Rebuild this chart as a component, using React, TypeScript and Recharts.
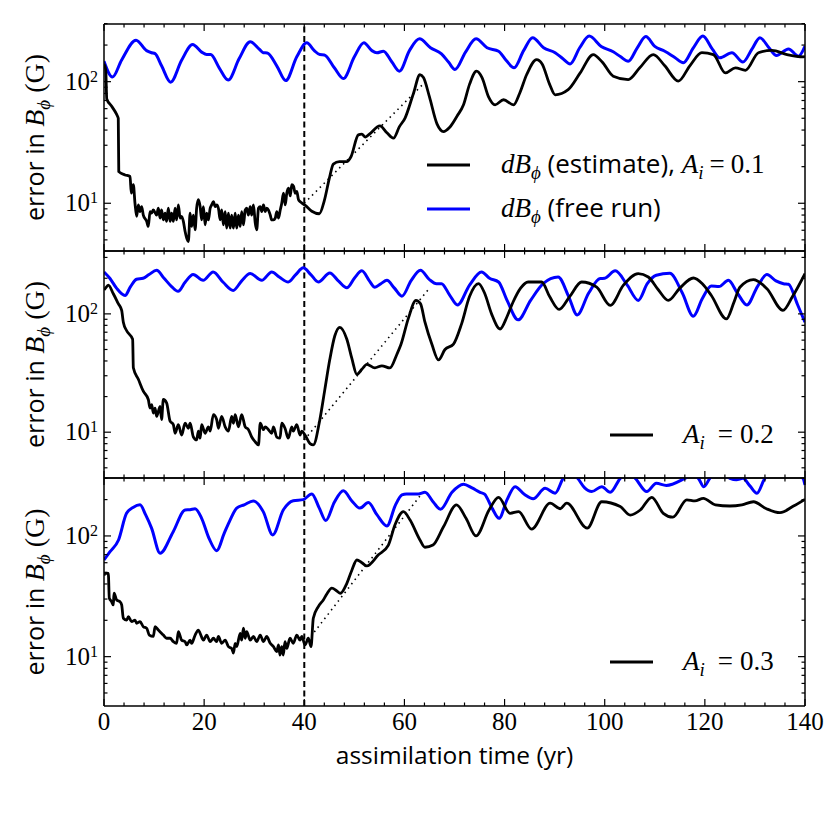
import React from 'react';
import { LineChart, Line, XAxis, YAxis, ReferenceLine } from 'recharts';

const SANS = "'Open Sans', sans-serif";
const SERIF = "'Liberation Serif', 'DejaVu Serif', serif";
const BLUE = '#0000ff';

const X_TICKS = [0, 4, 8, 12, 16, 20, 24, 28, 32, 36, 40, 44, 48, 52, 56, 60, 64, 68, 72, 76, 80, 84, 88, 92, 96, 100, 104, 108, 112, 116, 120, 124, 128, 132, 136, 140];
const X_MAJOR = [0, 20, 40, 60, 80, 100, 120, 140];
const Y_TICKS = [5, 6, 7, 8, 9, 10, 20, 30, 40, 50, 60, 70, 80, 90, 100, 200, 300];
const Y_MAJOR = [10, 100];
const Y_MAJOR_EXP = ['1', '2'];

// ---- panel 1 (A_i = 0.1) ----
const p1Estimate: [number, number][] = [
  [0, 140], [0.35, 125], [0.55, 72], [1.5, 63], [2.5, 54], [2.85, 50], [2.95, 18.2], [4.2, 17.1], [5.2, 16.6], [5.45, 12.1], [5.86, 14.2], [6.19, 10.0], [6.52, 7.8], [6.86, 9.7], [7.19, 8.55], [7.52, 9.4], [7.85, 8.0], [8.52, 7.1], [8.85, 6.45], [9.19, 8.55], [9.52, 8.3], [9.85, 8.8], [10.5, 8.0], [10.85, 9.1], [11.2, 7.55], [11.5, 8.8], [11.85, 7.3], [12.2, 8.3], [12.5, 7.1], [12.85, 9.1], [13.2, 7.1], [13.5, 8.3], [13.85, 7.1], [14.2, 9.1], [14.5, 7.3], [14.85, 9.7], [15.2, 7.55], [15.5, 7.8], [15.85, 7.1], [16.2, 5.85], [16.5, 5.2], [16.85, 4.85], [17.2, 8.3], [17.5, 6.45], [17.85, 8.0], [18.2, 6.05], [18.5, 9.1], [18.85, 10.7], [19.2, 9.4], [19.5, 7.3], [19.85, 9.4], [20.2, 6.65], [20.5, 8.3], [20.85, 7.3], [21.2, 9.1], [21.5, 9.7], [21.85, 10.3], [22.2, 9.4], [22.5, 9.7], [22.85, 9.1], [23.2, 7.3], [23.5, 8.8], [23.85, 6.65], [24.2, 8.55], [24.5, 6.25], [24.85, 8.3], [25.2, 6.25], [25.5, 8.0], [25.85, 6.25], [26.2, 8.3], [26.5, 6.25], [26.85, 8.0], [27.2, 6.45], [27.5, 8.55], [27.85, 6.65], [28.2, 8.8], [28.5, 9.1], [28.85, 8.0], [29.2, 9.4], [29.5, 8.0], [29.85, 9.7], [30.2, 6.9], [30.5, 6.05], [30.85, 9.1], [31.2, 9.4], [31.5, 8.55], [31.85, 9.7], [32.2, 8.55], [32.5, 9.1], [32.85, 8.8], [33.2, 8.0], [33.5, 7.3], [33.85, 7.3], [34.2, 7.55], [34.5, 8.55], [34.85, 7.55], [35.2, 8.8], [35.5, 10.0], [35.85, 12.1], [36.2, 9.7], [36.5, 12.1], [36.85, 13.3], [37.2, 11.5], [37.5, 14.2], [37.85, 13.8], [38.2, 12.1], [38.5, 12.5], [38.85, 10.7], [39.2, 10.3], [39.6, 10.0], [40.2, 9.6], [41.5, 8.6], [43, 8.2], [44, 10.5], [45, 16], [45.8, 21], [47, 22], [48.5, 22], [49.3, 24], [50.8, 36.5], [51.5, 37], [52.2, 35], [53, 37], [55.1, 43.3], [56.5, 38], [57.8, 34.3], [59, 42.7], [60.1, 50], [61.8, 80], [63.1, 114], [63.8, 108], [65, 75], [66.5, 45], [67.8, 38.9], [69, 42], [70.5, 52], [71.8, 64.5], [73, 95], [74.4, 122], [75.5, 108], [76.8, 75], [78.1, 64.5], [79.8, 71], [81.8, 64.5], [83, 80], [84.4, 114], [86.4, 152], [87.5, 140], [89, 95], [90.1, 78], [92.7, 86], [95.1, 118], [97.7, 167], [99.5, 145], [101.7, 111], [104.7, 104], [107, 130], [109.7, 167], [112, 135], [114.7, 101], [117, 135], [119.4, 173], [121.7, 167], [124.1, 118], [126.1, 130], [128.1, 124], [130.7, 173], [133.4, 181], [136.4, 167], [139.7, 160], [140, 162],
];
const p1FreeRun: [number, number][] = [
  [0, 147], [1.7, 109], [3.5, 150], [6.4, 219], [8.5, 180], [9.5, 173], [10.2, 170], [11.5, 135], [13.3, 99], [15.5, 150], [17.7, 202], [19.5, 175], [20.5, 167], [21.3, 167], [23, 130], [24.8, 103], [27, 155], [29.2, 213], [31, 185], [31.8, 173], [32.6, 172], [34.5, 135], [36.3, 102], [38.5, 160], [40.5, 209], [42, 180], [43.1, 167], [44, 166], [46, 130], [47.8, 106], [50, 160], [51.9, 209], [53.5, 180], [54.5, 173], [55.8, 178], [57.5, 145], [59, 122], [61, 180], [63, 225], [65.2, 190], [67.4, 169], [68.8, 145], [70.1, 126], [72.2, 175], [74.3, 225], [76.5, 190], [78.8, 178], [80.3, 150], [81.9, 130], [83.8, 180], [85.6, 230], [87.8, 190], [90.1, 173], [91.6, 155], [93.1, 140], [95, 190], [96.9, 237], [99.3, 195], [101.7, 176], [103.2, 160], [104.7, 147], [106.5, 190], [108.2, 235], [110, 195], [112, 178], [114, 158], [115.7, 143], [117.7, 190], [119.6, 237], [121.5, 185], [123, 157], [125.4, 173], [127.6, 145], [129.4, 185], [131, 230], [132.8, 190], [134.3, 164], [136.7, 186], [138.7, 162], [140, 196],
];
const p1Trend: [number, number][] = [[40, 10], [64, 98]];

// ---- panel 2 (A_i = 0.2) ----
const p2Estimate: [number, number][] = [
  [0, 160], [0.2, 163], [0.86, 175], [1.86, 148], [2.86, 122], [3.53, 107], [3.86, 85], [4.53, 72], [5.72, 61], [5.86, 35], [6.86, 28], [7.85, 22.2], [8.85, 18.9], [9.19, 16], [9.52, 17.1], [9.85, 14.5], [10.19, 16], [10.52, 13.6], [11.2, 16.5], [11.5, 12.8], [11.85, 18.9], [12.5, 17.7], [13.2, 12.4], [13.85, 11.6], [14.2, 9.8], [14.85, 11.6], [15.5, 9.45], [16.2, 11.9], [16.85, 10.8], [17.2, 11.9], [17.85, 9.1], [18.5, 8.6], [18.85, 10.2], [19.2, 8.9], [19.5, 11.6], [20.2, 9.8], [20.85, 11.1], [21.2, 10.2], [21.85, 14.1], [22.5, 12.8], [22.85, 10.8], [23.5, 13.6], [24.2, 11.1], [24.85, 10.2], [25.5, 13.6], [25.85, 11.9], [26.2, 14.1], [26.85, 11.1], [27.5, 14.1], [28.2, 11.1], [28.85, 10.5], [29.5, 9.1], [30.2, 8.3], [30.85, 7.8], [31.2, 11.9], [31.85, 10.5], [32.2, 11.1], [32.85, 10.5], [33.5, 9.8], [33.85, 11.1], [34.5, 9.1], [35.15, 8.9], [35.5, 11.9], [36.15, 10.8], [36.8, 8.9], [37.5, 11.1], [37.8, 10.2], [38.5, 11.6], [39.15, 9.45], [39.5, 10.2], [40.15, 9.45], [41.15, 8.0], [41.8, 7.8], [43.1, 12.7], [44.1, 22.9], [45.1, 41.3], [46.1, 65.3], [47.1, 77], [48.5, 61], [49.5, 42], [50.5, 30.8], [51.5, 34], [52.5, 37.5], [54.1, 35], [55.5, 36.4], [57.1, 34.9], [58.5, 45.6], [59.3, 55], [60.8, 92], [62.3, 130], [63.2, 122], [64.1, 85], [65.5, 55], [66.8, 40.8], [68.1, 50], [69.8, 55.5], [71.4, 82], [73, 140], [74.8, 180], [76, 150], [77.4, 100], [79.1, 74.5], [80.5, 95], [81.7, 126], [83.2, 165], [84.7, 186], [87.4, 186], [89, 140], [90.9, 109], [93, 140], [95.4, 186], [98.4, 168], [101.1, 118], [103.7, 174], [106.7, 219], [108.7, 205], [110.7, 160], [112.7, 130], [115, 165], [117.7, 201], [119.5, 180], [121.3, 143], [124.3, 90.6], [125.8, 125], [127, 168], [129.7, 195], [132.4, 163], [135.6, 107], [137.5, 140], [140, 219],
];
const p2FreeRun: [number, number][] = [
  [0, 226], [1.2, 199], [2.5, 165], [4.2, 143], [5.3, 170], [6.5, 196], [7.8, 200], [9, 215], [10.5, 234], [12, 200], [13.5, 170], [14.8, 155], [16.2, 185], [17.8, 215], [19.8, 192], [21.8, 226], [23.8, 185], [25.8, 158], [27.5, 190], [29.2, 219], [31.5, 192], [33.5, 226], [35, 205], [36.8, 186], [38.3, 215], [39.8, 245], [41.3, 215], [42.8, 186], [45.1, 222], [46.8, 190], [48.5, 166], [50, 200], [51.5, 231], [53, 190], [54.1, 168], [55.3, 180], [56.5, 192], [58, 165], [59.5, 141], [61.3, 190], [63.2, 234], [65, 195], [66.4, 180], [67.4, 180], [69, 145], [70.6, 119], [73, 175], [75.4, 226], [77, 200], [78.8, 186], [80.5, 130], [82.7, 89], [85.2, 130], [87.7, 180], [90.7, 205], [92.8, 140], [94.5, 98], [96.8, 150], [99.1, 199], [100, 200], [102.1, 231], [104.5, 175], [106.7, 130], [108.5, 180], [110.3, 212], [113, 220], [115.5, 150], [117.7, 95.5], [119.5, 135], [121.3, 172], [122.8, 170], [124.7, 192], [126.5, 150], [128.4, 119], [130.5, 170], [132.4, 215], [134.2, 190], [135.7, 180], [136.7, 178], [138.5, 120], [140, 85],
];
const p2Trend: [number, number][] = [[40, 8.6], [65, 165]];

// ---- panel 3 (A_i = 0.3) ----
const p3Estimate: [number, number][] = [
  [0, 47], [0.2, 49], [0.86, 49], [1.06, 30.5], [1.53, 28.5], [1.86, 26.8], [2.0, 33.5], [2.53, 29.5], [3.2, 28.5], [3.53, 26.8], [3.86, 20.8], [4.53, 20.1], [4.86, 21.4], [5.52, 19.5], [6.2, 20.1], [6.52, 18.9], [7.2, 19.5], [7.85, 17.7], [8.52, 17.2], [9.05, 15.1], [9.85, 14.7], [10.2, 17.7], [10.85, 16.6], [11.85, 15.1], [12.5, 14.2], [13.2, 14.2], [13.85, 13.3], [14.5, 12.9], [14.85, 16.1], [15.5, 13.7], [16.2, 13.3], [16.5, 12.5], [17.2, 13.7], [17.5, 12.9], [18.2, 15.1], [18.85, 16.6], [19.2, 15.6], [19.85, 13.7], [20.5, 15.1], [21.2, 13.3], [21.85, 14.2], [22.5, 13.3], [22.85, 14.7], [23.5, 12.9], [24.2, 13.7], [24.85, 12.1], [25.5, 11.7], [25.85, 10.7], [26.2, 12.9], [26.5, 12.1], [27.2, 15.6], [27.5, 13.7], [27.85, 17.2], [28.2, 14.2], [28.5, 16.1], [29.2, 13.7], [29.85, 14.7], [30.5, 13.3], [31.2, 15.1], [31.85, 13.3], [32.5, 14.7], [33.2, 12.9], [33.85, 12.1], [34.5, 11.0], [34.85, 12.5], [35.15, 10.3], [35.5, 12.1], [35.8, 10.3], [36.15, 13.3], [36.5, 11.7], [37.15, 14.2], [37.8, 12.9], [38.5, 15.1], [39.15, 13.7], [39.5, 14.7], [40.15, 12.5], [40.8, 14.2], [41.35, 12.1], [41.8, 20.8], [42.8, 26], [43.8, 29.5], [44.5, 33], [45.5, 36.9], [46.5, 35], [47.2, 33.5], [48.5, 40.5], [49.5, 52], [50.5, 63.2], [51.5, 60], [52.5, 56.4], [54.8, 69.7], [56.8, 84], [58.1, 123], [59.8, 159], [61.1, 136], [63.1, 92.6], [64.1, 80.6], [65.7, 84], [67.8, 119], [70.4, 181], [72.3, 140], [74.3, 100], [76.9, 164], [78.8, 209], [81.1, 154], [82.8, 159], [85.4, 114], [89.1, 187], [91.1, 168], [92.4, 187], [96.5, 116], [99.4, 192], [103.1, 175], [105.1, 149], [107.1, 164], [109.4, 209], [111.7, 154], [113.6, 143], [116.4, 199], [118, 195], [119.7, 205], [122.1, 181], [125, 177], [127.4, 181], [129.7, 192], [132.3, 168], [135, 156], [137.7, 177], [140, 201],
];
const p3FreeRun: [number, number][] = [
  [0, 63.2], [1.2, 74], [2.9, 92.6], [4.5, 154], [5.8, 172], [7.2, 181], [8.3, 150], [9.5, 116], [11.2, 72], [13.8, 108], [16.2, 164], [17.2, 165], [18.2, 168], [19.5, 140], [21, 95], [22.5, 75.5], [24, 105], [25.2, 136], [26.5, 170], [28, 181], [29.8, 195], [31.8, 159], [33.7, 102], [35.8, 164], [37.8, 196], [39.8, 200], [41.5, 223], [43, 170], [44.3, 134], [46, 190], [47.8, 237], [49.5, 195], [51.1, 170], [52.8, 189], [54.5, 150], [56.5, 121], [58.2, 180], [59.5, 219], [60.4, 223], [62.8, 223], [64.1, 230], [65.8, 190], [67.2, 166], [69.5, 230], [71.8, 268], [73.5, 250], [75.1, 230], [76, 222], [77.5, 170], [78.9, 140], [80.5, 200], [82.1, 256], [84, 220], [85.7, 203], [88.1, 248], [90.1, 226], [91.7, 300], [93.2, 340], [94.6, 300], [96, 250], [97.4, 233], [99.4, 256], [101.1, 230], [103.1, 300], [104.6, 335], [106.1, 300], [108.4, 233], [110.3, 273], [112.3, 262], [116, 300], [117.3, 320], [118.7, 300], [119.8, 256], [121, 300], [123, 340], [125, 300], [126.3, 292], [127.6, 300], [129, 260], [130.4, 226], [132, 300], [135.5, 360], [139.6, 300], [140, 264],
];
const p3Trend: [number, number][] = [[42, 16], [63.5, 225]];

const toRows = (pairs: [number, number][]) => pairs.map(([t, v]) => ({ t, v }));

const XTickTop = (props: any) => {
  const { x, y, payload } = props;
  const major = X_MAJOR.includes(payload.value);
  return <line x1={x} x2={x} y1={y} y2={y + (major ? 7 : 3.5)} stroke="#000" strokeWidth={1.2} />;
};

const makeXTickBottom = (showLabels: boolean) => (props: any) => {
  const { x, y, payload } = props;
  const major = X_MAJOR.includes(payload.value);
  return (
    <g>
      <line x1={x} x2={x} y1={y} y2={y - (major ? 7 : 3.5)} stroke="#000" strokeWidth={1.2} />
      {showLabels && major && (
        <text x={x} y={y + 24} textAnchor="middle" fontFamily={SERIF} fontSize={25} fill="#000">
          {payload.value}
        </text>
      )}
    </g>
  );
};

const YTickLeft = (props: any) => {
  const { x, y, payload } = props;
  const idx = Y_MAJOR.indexOf(payload.value);
  const major = idx >= 0;
  return (
    <g>
      <line x1={x} x2={x + (major ? 7 : 3.5)} y1={y} y2={y} stroke="#000" strokeWidth={1.2} />
      {major && (
        <text x={x - 6} y={y + 8} textAnchor="end" fontFamily={SERIF} fontSize={25} fill="#000">
          10<tspan dy={-8} fontSize={16}>{Y_MAJOR_EXP[idx]}</tspan>
        </text>
      )}
    </g>
  );
};

const YTickRight = (props: any) => {
  const { x, y, payload } = props;
  const major = Y_MAJOR.includes(payload.value);
  return <line x1={x} x2={x - (major ? 7 : 3.5)} y1={y} y2={y} stroke="#000" strokeWidth={1.2} />;
};

const axisLine = { stroke: '#000', strokeWidth: 1.5 };

type PanelProps = {
  top: number;
  plotH: number;
  bottomH: number;
  domain: [number, number];
  estimate: [number, number][];
  freeRun: [number, number][];
  trend: [number, number][];
  showXLabels: boolean;
};

function Panel({ top, plotH, bottomH, domain, estimate, freeRun, trend, showXLabels }: PanelProps) {
  const height = 2 + 1 + plotH + bottomH;
  return (
    <div style={{ position: 'absolute', left: 0, top: top - 3 }}>
      <LineChart width={830} height={height} margin={{ top: 2, right: 0, bottom: 0, left: 0 }}>
        <XAxis xAxisId="top" orientation="top" type="number" dataKey="t" domain={[0, 140]} ticks={X_TICKS} interval={0}
          height={1} tickSize={0} tickMargin={0} tickLine={false} axisLine={axisLine} tick={XTickTop} allowDataOverflow />
        <XAxis xAxisId="bottom" orientation="bottom" type="number" dataKey="t" domain={[0, 140]} ticks={X_TICKS} interval={0}
          height={bottomH} tickSize={0} tickMargin={0} tickLine={false} axisLine={axisLine} tick={makeXTickBottom(showXLabels)} allowDataOverflow />
        <YAxis yAxisId="left" orientation="left" type="number" scale="log" domain={domain} ticks={Y_TICKS} interval={0}
          width={104} tickSize={0} tickMargin={0} tickLine={false} axisLine={axisLine} tick={YTickLeft} allowDataOverflow />
        <YAxis yAxisId="right" orientation="right" type="number" scale="log" domain={domain} ticks={Y_TICKS} interval={0}
          width={25} tickSize={0} tickMargin={0} tickLine={false} axisLine={axisLine} tick={YTickRight} allowDataOverflow />
        <ReferenceLine xAxisId="bottom" yAxisId="left" x={40} stroke="#000" strokeWidth={2} strokeDasharray="6 3.5" />
        <Line data={toRows(freeRun)} dataKey="v" xAxisId="bottom" yAxisId="left" type="monotone" stroke={BLUE} strokeWidth={3} dot={false} isAnimationActive={false} />
        <Line data={toRows(trend)} dataKey="v" xAxisId="bottom" yAxisId="left" type="linear" stroke="#000" strokeWidth={1.6} strokeDasharray="1.5 4" dot={false} isAnimationActive={false} />
        <Line data={toRows(estimate)} dataKey="v" xAxisId="bottom" yAxisId="left" type="monotone" stroke="#000" strokeWidth={2.8} dot={false} isAnimationActive={false} />
      </LineChart>
    </div>
  );
}

const YLabel = ({ cy }: { cy: number }) => (
  <text transform={`translate(43.5, ${cy}) rotate(-90)`} textAnchor="middle" fill="#000">
    <tspan fontFamily={SANS} fontSize={25}>error in </tspan>
    <tspan fontFamily={SERIF} fontStyle="italic" fontSize={28}>B</tspan>
    <tspan fontFamily={SERIF} fontStyle="italic" fontSize={19} dy={6}>ϕ</tspan>
    <tspan fontFamily={SERIF} fontSize={28} dy={-6}> (G)</tspan>
  </text>
);

const AiLabel = ({ x, y, val }: { x: number; y: number; val: string }) => (
  <text x={x} y={y} fill="#000" fontFamily={SERIF} fontSize={27}>
    <tspan fontStyle="italic">A</tspan>
    <tspan fontStyle="italic" fontSize={19} dy={6}>i</tspan>
    <tspan dy={-6} dx={13}>=</tspan>
    <tspan dx={7}>{val}</tspan>
  </text>
);

export default function App() {
  return (
    <div style={{ position: 'absolute', left: 0, top: 0, width: 830, height: 830, background: '#fff' }}>
      <Panel top={24} plotH={227} bottomH={1} domain={[4.05, 298]} estimate={p1Estimate} freeRun={p1FreeRun} trend={p1Trend} showXLabels={false} />
      <Panel top={251} plotH={227} bottomH={1} domain={[4.1, 340]} estimate={p2Estimate} freeRun={p2FreeRun} trend={p2Trend} showXLabels={false} />
      <Panel top={478} plotH={228} bottomH={70} domain={[3.9, 302]} estimate={p3Estimate} freeRun={p3FreeRun} trend={p3Trend} showXLabels={true} />
      <svg width={830} height={830} style={{ position: 'absolute', left: 0, top: 0, pointerEvents: 'none' }}>
        <YLabel cy={137.5} />
        <YLabel cy={364.5} />
        <YLabel cy={592} />
        <text x={454.5} y={764} textAnchor="middle" fontFamily={SANS} fontSize={24.5} fill="#000">assimilation time (yr)</text>

        <line x1={427} x2={470} y1={165} y2={165} stroke="#000" strokeWidth={3} />
        <text x={501} y={173} fill="#000" fontSize={27}>
          <tspan fontFamily={SERIF} fontStyle="italic">dB</tspan>
          <tspan fontFamily={SERIF} fontStyle="italic" fontSize={19} dy={6}>ϕ</tspan>
          <tspan fontFamily={SANS} fontSize={26} dy={-6}> (estimate), </tspan>
          <tspan fontFamily={SERIF} fontStyle="italic">A</tspan>
          <tspan fontFamily={SERIF} fontStyle="italic" fontSize={19} dy={6}>i</tspan>
          <tspan fontFamily={SERIF} dy={-6} dx={6}>=</tspan>
          <tspan fontFamily={SERIF} dx={6}>0.1</tspan>
        </text>
        <line x1={427} x2={470} y1={209} y2={209} stroke={BLUE} strokeWidth={3} />
        <text x={501} y={217} fill="#000" fontSize={27}>
          <tspan fontFamily={SERIF} fontStyle="italic">dB</tspan>
          <tspan fontFamily={SERIF} fontStyle="italic" fontSize={19} dy={6}>ϕ</tspan>
          <tspan fontFamily={SANS} fontSize={26} dy={-6}> (free run)</tspan>
        </text>

        <line x1={610} x2={653} y1={435} y2={435} stroke="#000" strokeWidth={3} />
        <AiLabel x={683} y={443} val="0.2" />
        <line x1={610} x2={653} y1={662} y2={662} stroke="#000" strokeWidth={3} />
        <AiLabel x={683} y={670} val="0.3" />
      </svg>
    </div>
  );
}
